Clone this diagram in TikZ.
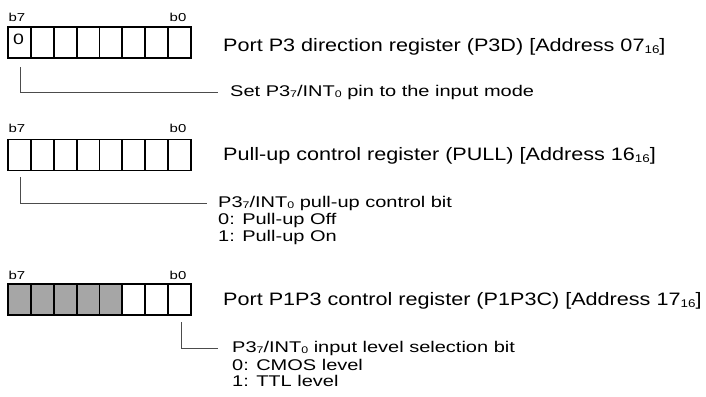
\documentclass[tikz,border=0pt]{standalone}
\usepackage{fontspec}
\setmainfont{Liberation Sans}
\newcommand\sbs[1]{\raisebox{-0.15ex}{\scalebox{0.62}{#1}}}
\newcommand\widet[1]{\scalebox{1.2}[1]{#1}}
\newcommand\wided[1]{\scalebox{1.29}[1]{#1}}
\newcommand\wideb[1]{\scalebox{1.3}[1]{#1}}
\begin{document}
\begin{tikzpicture}[x=1pt,y=-1pt,
  cell/.style={draw=black,line width=1.8pt,minimum width=22.875pt,minimum height=31pt,inner sep=0pt,outer sep=0pt},
  gcell/.style={cell,fill=black!35},
  bitlbl/.style={inner sep=0pt,font=\fontsize{11.5}{13}\selectfont},
  title/.style={anchor=west,inner sep=0pt,font=\fontsize{18}{21}\selectfont},
  desc/.style={anchor=west,inner sep=0pt,align=left,font=\fontsize{15.5}{17}\selectfont},
  conn/.style={draw=black!70,line width=1pt}]
\useasboundingbox (0,0) rectangle (706,396);
% register 1
\foreach \i in {0,...,7}{
  \node[cell,anchor=north west] (a\i) at ({8+22.875*\i},27) {};
}
\node[inner sep=0pt,font=\fontsize{15}{17}\selectfont] (z) at (18.5,39.5) {\wideb{0}};
\node[bitlbl] (a7l) at (17,17) {\wideb{b7}};
\node[bitlbl] (a0l) at (178,17) {\wideb{b0}};
\node[title] (t1) at (223,47) {\widet{Port P3 direction register (P3D) [Address 07\sbs{16}]}};
\coordinate (c1) at (20.5,67);
\node[desc] (d1) at (230,92) {\wided{Set P3\sbs{7}/INT\sbs{0} pin to the input mode}};
\draw[conn] (c1) |- ([xshift=-12pt]d1.west);
% register 2
\foreach \i in {0,...,7}{
  \node[cell,anchor=north west] (b\i) at ({8+22.875*\i},139.5) {};
}
\node[bitlbl] (b7l) at (17,128) {\wideb{b7}};
\node[bitlbl] (b0l) at (178,128) {\wideb{b0}};
\node[title] (t2) at (223,156) {\widet{Pull-up control register (PULL) [Address 16\sbs{16}]}};
\coordinate (c2) at (20.5,177);
\node[desc] (d2) at (218,203) {\wided{P3\sbs{7}/INT\sbs{0} pull-up control bit}};
\node[desc] (d2b) at (218,220) {\wided{0: Pull-up Off}};
\node[desc] (d2c) at (218,237) {\wided{1: Pull-up On}};
\draw[conn] (c2) |- ([xshift=-11pt]d2.west);
% register 3
\foreach \i in {0,...,4}{
  \node[gcell,anchor=north west] (g\i) at ({8+22.875*\i},284) {};
}
\foreach \i in {5,...,7}{
  \node[cell,anchor=north west] (g\i) at ({8+22.875*\i},284) {};
}
\node[bitlbl] (g7l) at (17,275) {\wideb{b7}};
\node[bitlbl] (g0l) at (178,275) {\wideb{b0}};
\node[title] (t3) at (223,301) {\widet{Port P1P3 control register (P1P3C) [Address 17\sbs{16}]}};
\coordinate (c3) at (181,322);
\node[desc] (d3) at (232,348) {\wided{P3\sbs{7}/INT\sbs{0} input level selection bit}};
\node[desc] (d3b) at (232,364.5) {\wided{0: CMOS level}};
\node[desc] (d3c) at (232,381) {\wided{1: TTL level}};
\draw[conn] (c3) |- ([xshift=-14pt]d3.west);
\end{tikzpicture}
\end{document}
